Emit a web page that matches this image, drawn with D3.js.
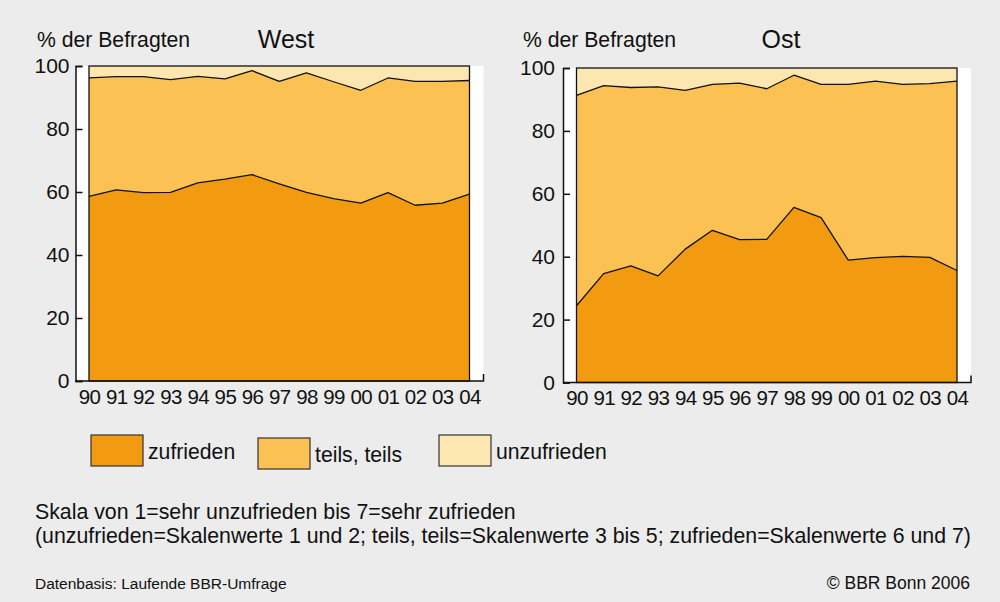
<!DOCTYPE html>
<html>
<head>
<meta charset="utf-8">
<script src="https://cdn.jsdelivr.net/npm/d3@7"></script>
<style>
  body { margin: 0; background: #ebeceb; }
  svg text { font-family: "Liberation Sans", Arial, Helvetica, sans-serif; fill: #111; }
</style>
</head>
<body>
<div id="vis"></div>
<script>
const years = ["90", "91", "92", "93", "94", "95", "96", "97", "98", "99", "00", "01", "02", "03", "04"];
const yTicks = [0, 20, 40, 60, 80, 100];
const keys = ["zufrieden", "teils", "unzufrieden"];
const legendLabels = ["zufrieden", "teils, teils", "unzufrieden"];
const colors = ["#f39b10", "#fbc152", "#fde7b1"];

// West
const westZufrieden = [58.6, 60.7, 59.8, 59.9, 62.9, 64.1, 65.5, 62.6, 59.9, 57.9, 56.5, 59.8, 55.8, 56.5, 59.3];
const westTeils = [37.6, 35.9, 36.8, 35.8, 33.8, 31.8, 33.0, 32.5, 37.9, 37.1, 35.8, 36.4, 39.3, 38.6, 36.1];
const westUnzufrieden = [3.8, 3.4, 3.4, 4.3, 3.3, 4.1, 1.5, 4.9, 2.2, 5.0, 7.7, 3.8, 4.9, 4.9, 4.6];

// Ost
const ostZufrieden = [24.4, 34.6, 37.1, 33.9, 42.4, 48.4, 45.4, 45.5, 55.7, 52.4, 38.9, 39.7, 40.1, 39.8, 35.6];
const ostTeils = [66.9, 59.8, 56.7, 60.1, 50.5, 46.4, 49.8, 47.9, 42.0, 42.4, 55.9, 56.1, 54.7, 55.2, 60.2];
const ostUnzufrieden = [8.7, 5.6, 6.2, 6.0, 7.1, 5.2, 4.8, 6.6, 2.3, 5.2, 5.2, 4.2, 5.2, 5.0, 4.2];

const width = 1000;
const height = 602;

const svg = d3.select("#vis")
  .append("svg")
  .attr("width", width)
  .attr("height", height)
  .attr("viewBox", [0, 0, width, height]);

svg.append("rect")
  .attr("width", width)
  .attr("height", height)
  .attr("fill", "#ebeceb");

function drawPanel(opts) {
  const data = years.map((yr, i) => ({
    year: yr,
    zufrieden: opts.zuf[i],
    teils: opts.teils[i],
    unzufrieden: opts.unz[i]
  }));

  const x = d3.scalePoint()
    .domain(years)
    .range([opts.axisX + 13.5, opts.axisX + 394]);

  const y = d3.scaleLinear()
    .domain([0, 100])
    .range([opts.y0, opts.y100]);

  const g = svg.append("g");

  // white plot background
  g.append("rect")
    .attr("x", opts.axisX)
    .attr("y", y(100))
    .attr("width", 408)
    .attr("height", y(0) - y(100))
    .attr("fill", "#fff");

  const series = d3.stack().keys(keys)(data);

  const area = d3.area()
    .x(d => x(d.data.year))
    .y0(d => y(d[0]))
    .y1(d => y(Math.min(100, d[1])));

  g.selectAll("path.area")
    .data(series)
    .join("path")
    .attr("class", "area")
    .attr("fill", (d, i) => colors[i])
    .attr("d", area);

  const line = d3.line()
    .x(d => x(d.data.year))
    .y(d => y(d[1]));

  g.selectAll("path.bound")
    .data(series.slice(0, 2))
    .join("path")
    .attr("class", "bound")
    .attr("fill", "none")
    .attr("stroke", "#111")
    .attr("stroke-width", 1.3)
    .attr("stroke-linejoin", "round")
    .attr("d", line);

  // outline of the data area
  g.append("rect")
    .attr("x", x(years[0]))
    .attr("y", y(100))
    .attr("width", x(years[years.length - 1]) - x(years[0]))
    .attr("height", y(0) - y(100))
    .attr("fill", "none")
    .attr("stroke", "#111")
    .attr("stroke-width", 1.3);

  // y axis
  const yAxis = g.append("g")
    .attr("transform", `translate(${opts.axisX},0)`)
    .call(d3.axisLeft(y).tickValues(yTicks).tickSize(-7).tickPadding(opts.pad));
  yAxis.select(".domain").attr("stroke", "#111").attr("stroke-width", 1.5);
  yAxis.selectAll(".tick line").attr("stroke", "#111").attr("stroke-width", 1.5);
  yAxis.selectAll(".tick text")
    .attr("font-size", 21)
    .attr("font-family", "Liberation Sans, Arial, sans-serif")
    .attr("fill", "#111");

  // x axis baseline with end tick
  g.append("path")
    .attr("fill", "none")
    .attr("stroke", "#111")
    .attr("stroke-width", 1.5)
    .attr("d", `M${opts.axisX},${y(0)}H${opts.axisX + 408}V${y(0) - 7}`);

  const xAxis = g.append("g")
    .attr("transform", `translate(0,${y(0)})`)
    .call(d3.axisBottom(x).tickSize(0).tickPadding(8));
  xAxis.select(".domain").remove();
  xAxis.selectAll(".tick text")
    .attr("font-size", 20.5)
    .attr("font-family", "Liberation Sans, Arial, sans-serif")
    .attr("letter-spacing", -0.6)
    .attr("fill", "#111");

  g.append("text")
    .attr("x", opts.unitX)
    .attr("y", 47)
    .attr("font-size", 21.2)
    .text("% der Befragten");

  g.append("text")
    .attr("x", opts.titleX)
    .attr("y", 48)
    .attr("text-anchor", "middle")
    .attr("font-size", 25)
    .text(opts.title);
}

drawPanel({
  title: "West", titleX: 286, unitX: 37, axisX: 75.5, y0: 381, y100: 66, pad: 6,
  zuf: westZufrieden, teils: westTeils, unz: westUnzufrieden
});

drawPanel({
  title: "Ost", titleX: 781, unitX: 523, axisX: 563, y0: 382.5, y100: 68, pad: 8,
  zuf: ostZufrieden, teils: ostTeils, unz: ostUnzufrieden
});

// legend
const legendX = [91, 258, 439];
const legendY = [435, 438, 435];
const legend = svg.append("g");
legendLabels.forEach((lab, i) => {
  legend.append("rect")
    .attr("x", legendX[i])
    .attr("y", legendY[i])
    .attr("width", 52)
    .attr("height", 31)
    .attr("fill", colors[i])
    .attr("stroke", "#333")
    .attr("stroke-width", 1.2);
  legend.append("text")
    .attr("x", legendX[i] + 57)
    .attr("y", legendY[i] + 24)
    .attr("font-size", 21.2)
    .text(lab);
});

// notes
svg.append("text")
  .attr("x", 35)
  .attr("y", 519)
  .attr("font-size", 21.3)
  .text("Skala von 1=sehr unzufrieden bis 7=sehr zufrieden");

svg.append("text")
  .attr("x", 35)
  .attr("y", 543)
  .attr("font-size", 21.3)
  .text("(unzufrieden=Skalenwerte 1 und 2; teils, teils=Skalenwerte 3 bis 5; zufrieden=Skalenwerte 6 und 7)");

svg.append("text")
  .attr("x", 35)
  .attr("y", 589)
  .attr("font-size", 15.5)
  .text("Datenbasis: Laufende BBR-Umfrage");

svg.append("text")
  .attr("x", 970)
  .attr("y", 589)
  .attr("text-anchor", "end")
  .attr("font-size", 17.5)
  .text("© BBR Bonn 2006");
</script>
</body>
</html>
